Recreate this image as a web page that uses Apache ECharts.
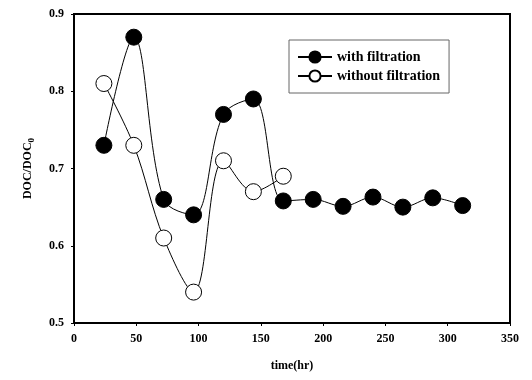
<!DOCTYPE html>
<html>
<head>
<meta charset="utf-8">
<script src="https://cdn.jsdelivr.net/npm/echarts@6/dist/echarts.min.js"></script>
<style>
  html, body { margin: 0; padding: 0; background: #fff; }
  #chart { width: 532px; height: 380px; }
</style>
</head>
<body>
<div id="chart"></div>
<script>
// time (hr) and DOC/DOC0 values
var timeWith = [24, 48, 72, 96, 120, 144, 168, 192, 216, 240, 264, 288, 312];
var docWith = [0.73, 0.87, 0.66, 0.64, 0.77, 0.79, 0.658, 0.66, 0.651, 0.663, 0.65, 0.662, 0.652];
var timeWithout = [24, 48, 72, 96, 120, 144, 168];
var docWithout = [0.81, 0.73, 0.61, 0.54, 0.71, 0.67, 0.69];
var xTicks = [0, 50, 100, 150, 200, 250, 300, 350];
var yTicks = [0.5, 0.6, 0.7, 0.8, 0.9];

function pairs(xs, ys) {
  return xs.map(function (x, i) { return [x, ys[i]]; });
}

var font = "Liberation Serif";
var myChart = echarts.init(document.getElementById("chart"));
myChart.setOption({
  animation: false,
  grid: {
    left: 74, right: 22, top: 14, bottom: 57,
    show: true, borderColor: "#000", borderWidth: 2
  },
  legend: {
    orient: "vertical",
    left: 289, top: 40,
    padding: [10, 9, 10, 8],
    itemGap: 5,
    itemWidth: 34, itemHeight: 14,
    borderColor: "#666", borderWidth: 1,
    textStyle: { fontFamily: font, fontWeight: "bold", fontSize: 14, color: "#000" },
    data: ["with filtration", "without filtration"]
  },
  xAxis: {
    type: "value",
    min: xTicks[0], max: xTicks[xTicks.length - 1], interval: 50,
    name: "time(hr)",
    nameLocation: "middle",
    nameGap: 37,
    nameTextStyle: { fontFamily: font, fontWeight: "bold", fontSize: 12, color: "#000" },
    axisLine: { lineStyle: { color: "#000", width: 2 } },
    axisTick: { show: true, inside: false, length: 3, lineStyle: { color: "#000" } },
    axisLabel: { fontFamily: font, fontWeight: "bold", fontSize: 12, color: "#000", margin: 10 },
    splitLine: { show: false }
  },
  yAxis: {
    type: "value",
    min: yTicks[0], max: yTicks[yTicks.length - 1], interval: 0.1,
    name: "{a|DOC/DOC}{s|0}",
    nameLocation: "middle",
    nameGap: 38,
    nameTextStyle: {
      rich: {
        a: { fontFamily: font, fontWeight: "bold", fontSize: 12, color: "#000" },
        s: { fontFamily: font, fontWeight: "bold", fontSize: 9, color: "#000", padding: [8, 0, 0, 0] }
      }
    },
    axisLine: { lineStyle: { color: "#000", width: 2 } },
    axisTick: { show: true, inside: false, length: 3, lineStyle: { color: "#000" } },
    axisLabel: {
      fontFamily: font, fontWeight: "bold", fontSize: 12, color: "#000", margin: 10,
      formatter: function (v) { return v.toFixed(1); }
    },
    splitLine: { show: false }
  },
  series: [
    {
      name: "with filtration",
      type: "line",
      data: pairs(timeWith, docWith),
      smooth: 0.35,
      symbol: "circle",
      symbolSize: 16,
      lineStyle: { color: "#000", width: 1 },
      itemStyle: { color: "#000", borderColor: "#000", borderWidth: 1 },
      z: 3
    },
    {
      name: "without filtration",
      type: "line",
      data: pairs(timeWithout, docWithout),
      smooth: 0.35,
      symbol: "circle",
      symbolSize: 16,
      lineStyle: { color: "#000", width: 1 },
      itemStyle: { color: "#fff", borderColor: "#000", borderWidth: 1 },
      z: 2
    }
  ]
});
</script>
</body>
</html>
